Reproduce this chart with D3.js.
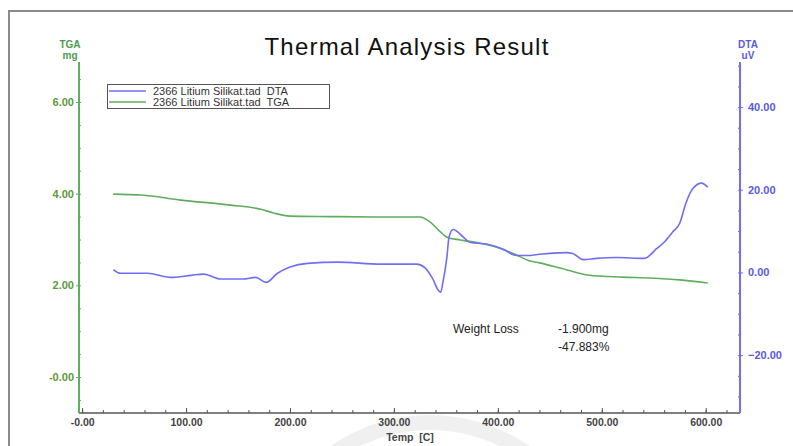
<!DOCTYPE html>
<html>
<head>
<meta charset="utf-8">
<script src="https://cdn.jsdelivr.net/npm/d3@7"></script>
<style>
  body { margin: 0; background: #fff; }
  svg { font-family: "Liberation Sans", Arial, sans-serif; }
  text { white-space: pre; }
</style>
</head>
<body>
<svg id="chart" width="793" height="446"></svg>
<script>
// TGA curve (mg) against temperature
const tgaTemp = [30, 57, 95, 143, 172, 184, 200, 239, 287, 325, 335, 345, 351, 364, 383, 402, 418, 431, 440, 460, 488, 520, 546, 575, 602];
const tgaMass = [3.99, 3.97, 3.86, 3.75, 3.66, 3.58, 3.51, 3.50, 3.49, 3.49, 3.38, 3.16, 3.05, 2.99, 2.92, 2.81, 2.66, 2.53, 2.49, 2.38, 2.22, 2.18, 2.16, 2.12, 2.05];

// DTA curve (uV) against temperature
const dtaTemp = [30, 37, 63, 85, 105, 117, 133, 155, 167, 177, 188, 200, 217, 246, 287, 322, 330, 337, 343, 345, 347, 351, 353, 357, 367, 373, 390, 405, 418, 431, 440, 466, 472, 482, 495, 514, 541, 553, 560, 568, 575, 581, 588, 596, 602];
const dtaSignal = [0.7, -0.2, -0.2, -1.2, -0.7, -0.4, -1.6, -1.6, -1.2, -2.4, -0.2, 1.3, 2.2, 2.5, 2.0, 2.0, 1.1, -1.4, -4.4, -4.8, -2.6, 3.7, 8.5, 10.4, 8.5, 7.3, 6.8, 5.6, 4.1, 4.1, 4.4, 4.8, 4.6, 3.1, 3.4, 3.6, 3.4, 5.8, 7.3, 9.7, 11.9, 16.8, 20.4, 21.6, 20.6];

const xMajor = [0, 100, 200, 300, 400, 500, 600];
const tgaMajor = [0, 2, 4, 6];
const dtaMajor = [-20, 0, 20, 40];
const legendLabels = ["2366 Litium Silikat.tad  DTA", "2366 Litium Silikat.tad  TGA"];

const green = "#5fae5f";
const blue = "#6f6ff5";
const svg = d3.select("#chart");

// faint watermark + frame
svg.append("path")
  .attr("d", d3.arc()({ innerRadius: 160, outerRadius: 175, startAngle: -1.2, endAngle: 1.2 }))
  .attr("transform", "translate(430,590)")
  .attr("fill", "#f0f0f0");
svg.append("path")
  .attr("d", "M9,446 L9,11 L793,11")
  .attr("fill", "none")
  .attr("stroke", "#8a8a8a")
  .attr("stroke-width", 2);

const x = d3.scaleLinear().domain([-3, 633]).range([79, 740]);
const yTga = d3.scaleLinear().domain([-0.785, 6.873]).range([413, 62]);
const yDta = d3.scaleLinear().domain([-34.0, 50.9]).range([413, 62]);

// title
svg.append("text")
  .attr("x", 407).attr("y", 55)
  .attr("text-anchor", "middle")
  .attr("font-size", 24)
  .attr("letter-spacing", 1.2)
  .attr("fill", "#111")
  .text("Thermal Analysis Result");

// x axis: minor ticks inward, major labelled
const xAxisG = svg.append("g").attr("transform", "translate(0,413)");
xAxisG.call(d3.axisBottom(x).tickValues(d3.range(0, 633, 20)).tickSize(-3).tickFormat(""));
xAxisG.call((g) => g.select(".domain").attr("d", "M79,0H740").attr("stroke", "#555").attr("stroke-width", 1.5));
xAxisG.selectAll(".tick line").attr("stroke", "#555");
const xLab = svg.append("g").attr("transform", "translate(0,413)")
  .call(d3.axisBottom(x).tickValues(xMajor).tickSize(-5).tickPadding(6)
    .tickFormat((d) => (d === 0 ? "-0.00" : d3.format(".2f")(d))));
xLab.select(".domain").remove();
xLab.selectAll(".tick line").attr("stroke", "#555");
xLab.selectAll("text").attr("font-size", 10.5).attr("fill", "#444").attr("font-weight", "bold");

svg.append("text")
  .attr("x", 410).attr("y", 441)
  .attr("text-anchor", "middle")
  .attr("font-size", 10.5)
  .attr("fill", "#444")
  .attr("font-weight", "bold")
  .text("Temp  [C]");

// left TGA axis
const lAxis = svg.append("g").attr("transform", "translate(79,0)");
lAxis.call(d3.axisRight(yTga).tickValues(d3.range(-0.5, 7, 0.5)).tickSize(2).tickFormat(""));
lAxis.select(".domain").attr("d", "M0,62V413").attr("stroke", green).attr("stroke-width", 2);
lAxis.selectAll(".tick line").attr("stroke", green);
const lLab = svg.append("g").attr("transform", "translate(79,0)")
  .call(d3.axisLeft(yTga).tickValues(tgaMajor).tickSize(3).tickPadding(2)
    .tickFormat((d) => (d === 0 ? "-0.00" : d3.format(".2f")(d))));
lLab.select(".domain").remove();
lLab.selectAll(".tick line").attr("stroke", green);
lLab.selectAll("text").attr("font-size", 11).attr("fill", "#5c9a3c").attr("font-weight", "bold");

svg.append("text").attr("x", 70).attr("y", 48).attr("text-anchor", "middle")
  .attr("font-size", 10).attr("font-weight", "bold").attr("fill", "#4e9a4e").text("TGA");
svg.append("text").attr("x", 70).attr("y", 59).attr("text-anchor", "middle")
  .attr("font-size", 10).attr("font-weight", "bold").attr("fill", "#4e9a4e").text("mg");

// right DTA axis
const rAxis = svg.append("g").attr("transform", "translate(740,0)");
rAxis.call(d3.axisLeft(yDta).tickValues(d3.range(-30, 51, 5)).tickSize(2).tickFormat(""));
rAxis.select(".domain").attr("d", "M0,62V413").attr("stroke", blue).attr("stroke-width", 2);
rAxis.selectAll(".tick line").attr("stroke", blue);
const rLab = svg.append("g").attr("transform", "translate(740,0)")
  .call(d3.axisRight(yDta).tickValues(dtaMajor).tickSize(3).tickPadding(5)
    .tickFormat(d3.format(".2f")));
rLab.select(".domain").remove();
rLab.selectAll(".tick line").attr("stroke", blue);
rLab.selectAll("text").attr("font-size", 11).attr("fill", "#5a5ae0").attr("font-weight", "bold");

svg.append("text").attr("x", 748).attr("y", 48).attr("text-anchor", "middle")
  .attr("font-size", 10).attr("font-weight", "bold").attr("fill", "#5a5ae0").text("DTA");
svg.append("text").attr("x", 748).attr("y", 59).attr("text-anchor", "middle")
  .attr("font-size", 10).attr("font-weight", "bold").attr("fill", "#5a5ae0").text("uV");

// curves
const tgaLine = d3.line().curve(d3.curveMonotoneX)
  .x((d, i) => x(tgaTemp[i])).y((d) => yTga(d));
const dtaLine = d3.line().curve(d3.curveMonotoneX)
  .x((d, i) => x(dtaTemp[i])).y((d) => yDta(d));

svg.append("path").datum(tgaMass)
  .attr("d", tgaLine).attr("fill", "none")
  .attr("stroke", green).attr("stroke-width", 1.6);
svg.append("path").datum(dtaSignal)
  .attr("d", dtaLine).attr("fill", "none")
  .attr("stroke", blue).attr("stroke-width", 1.6);

// legend
const legend = svg.append("g");
legend.append("rect")
  .attr("x", 107.5).attr("y", 84.5).attr("width", 222).attr("height", 24)
  .attr("fill", "#fff").attr("stroke", "#555");
[blue, green].forEach((c, i) => {
  legend.append("line")
    .attr("x1", 109).attr("x2", 146)
    .attr("y1", 91 + i * 11).attr("y2", 91 + i * 11)
    .attr("stroke", c).attr("stroke-width", 1.6);
  legend.append("text")
    .attr("x", 153).attr("y", 95 + i * 11)
    .attr("font-size", 11).attr("fill", "#333")
    .text(legendLabels[i]);
});

// weight loss note
svg.append("text").attr("x", 453).attr("y", 333).attr("font-size", 12).attr("fill", "#222").text("Weight Loss");
svg.append("text").attr("x", 558).attr("y", 333).attr("font-size", 12).attr("fill", "#222").text("-1.900mg");
svg.append("text").attr("x", 558).attr("y", 351).attr("font-size", 12).attr("fill", "#222").text("-47.883%");
</script>
</body>
</html>
